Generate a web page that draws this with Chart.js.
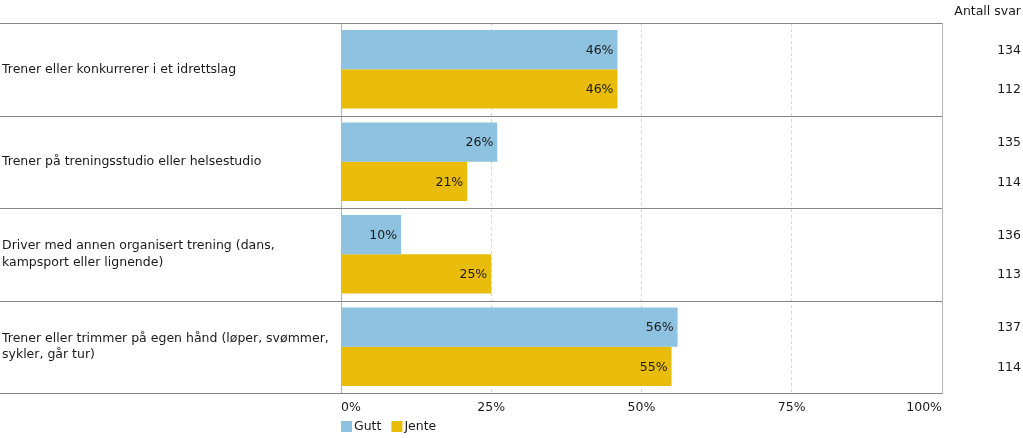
<!DOCTYPE html>
<html>
<head>
<meta charset="utf-8">
<script src="https://cdn.jsdelivr.net/npm/chart.js@4/dist/chart.umd.min.js"></script>
<style>
  html, body { margin: 0; padding: 0; background: #fff; }
  #wrap { width: 1023px; height: 438px; position: relative; }
</style>
</head>
<body>
<div id="wrap"><canvas id="chart"></canvas></div>
<script>
// Categories (multi-line labels as arrays)
const categories = [
    'Trener eller konkurrerer i et idrettslag',
    'Trener på treningsstudio eller helsestudio',
    ['Driver med annen organisert trening (dans,', 'kampsport eller lignende)'],
    ['Trener eller trimmer på egen hånd (løper, svømmer,', 'sykler, går tur)']
];
const seriesNames = ['Gutt', 'Jente'];
const guttValues = [46, 26, 10, 56];
const jenteValues = [46, 21, 25, 55];
const guttCounts = [134, 135, 136, 137];
const jenteCounts = [112, 114, 113, 114];
const xTicks = [0, 25, 50, 75, 100];
const countHeader = 'Antall svar';

const FONT = 'DejaVu Sans, Verdana, sans-serif';
const BLUE = '#8DC2E0';
const GOLD = '#E8BC08';
const TEXT = '#1a1a1a';

// Draws table lines, plot frame, value labels, count column and legend
const tablePlugin = {
    id: 'tableLines',
    afterDraw(chart) {
        const ctx = chart.ctx;
        const area = chart.chartArea;
        const y = chart.scales.y;
        const band = (y.getPixelForValue(1) - y.getPixelForValue(0));
        ctx.save();

        // horizontal table lines at category boundaries
        ctx.strokeStyle = '#858585';
        ctx.lineWidth = 1;
        for (let i = 0; i <= categories.length; i++) {
            const py = Math.round(y.getPixelForValue(0) - band / 2 + i * band) + 0.5;
            ctx.beginPath();
            ctx.moveTo(0, py);
            ctx.lineTo(area.right, py);
            ctx.stroke();
        }
        // right frame
        ctx.strokeStyle = '#b4b4b4';
        ctx.beginPath();
        ctx.moveTo(Math.round(area.right) + 0.5, area.top);
        ctx.lineTo(Math.round(area.right) + 0.5, area.bottom);
        ctx.stroke();

        // value labels inside bars
        ctx.font = '12.5px ' + FONT;
        ctx.fillStyle = TEXT;
        ctx.textAlign = 'right';
        ctx.textBaseline = 'middle';
        chart.data.datasets.forEach((ds, di) => {
            chart.getDatasetMeta(di).data.forEach((bar, i) => {
                ctx.fillText(ds.data[i] + '%', bar.x - 4, bar.y + 1);
            });
        });

        // counts column
        const counts = [guttCounts, jenteCounts];
        counts.forEach((list, di) => {
            chart.getDatasetMeta(di).data.forEach((bar, i) => {
                ctx.fillText(String(list[i]), 1021, bar.y + 1);
            });
        });
        ctx.fillText(countHeader, 1021, 12);

        // legend
        ctx.textAlign = 'left';
        let lx = area.left;
        const ly = 421;
        chart.data.datasets.forEach((ds) => {
            ctx.fillStyle = ds.backgroundColor;
            ctx.fillRect(lx, ly, 11, 11);
            ctx.fillStyle = TEXT;
            ctx.fillText(ds.label, lx + 13, ly + 6);
            lx += 13 + ctx.measureText(ds.label).width + 10;
        });
        ctx.restore();
    }
};

new Chart(document.getElementById('chart'), {
    type: 'bar',
    data: {
        labels: categories,
        datasets: [
            { label: seriesNames[0], data: guttValues, backgroundColor: BLUE },
            { label: seriesNames[1], data: jenteValues, backgroundColor: GOLD }
        ]
    },
    options: {
        indexAxis: 'y',
        responsive: true,
        maintainAspectRatio: false,
        animation: false,
        layout: { padding: { top: 23, right: 81, left: 2, bottom: 0 } },
        datasets: { bar: { categoryPercentage: 0.85, barPercentage: 1.0 } },
        plugins: {
            tooltip: { enabled: false },
            legend: { display: false }
        },
        scales: {
            x: {
                min: 0,
                max: 100,
                afterBuildTicks: (scale) => { scale.ticks = xTicks.map(v => ({ value: v })); },
                afterFit: (scale) => { scale.height = 45; },
                ticks: {
                    align: 'inner',
                    color: TEXT,
                    font: { family: FONT, size: 12.5 },
                    padding: 7,
                    callback: (v) => v + '%'
                },
                grid: {
                    drawTicks: false,
                    color: (c) => (c.tick && (c.tick.value === 0 || c.tick.value === 100)) ? 'rgba(0,0,0,0)' : '#d4d4d4'
                },
                border: { display: true, color: '#b4b4b4', dash: [3, 3] }
            },
            y: {
                afterFit: (scale) => { scale.width = 339; },
                ticks: {
                    crossAlign: 'far',
                    color: TEXT,
                    font: { family: FONT, size: 12.5, lineHeight: 1.35 },
                    padding: 2
                },
                grid: { display: false },
                border: { display: true, color: '#b4b4b4' }
            }
        }
    },
    plugins: [tablePlugin]
});
</script>
</body>
</html>
